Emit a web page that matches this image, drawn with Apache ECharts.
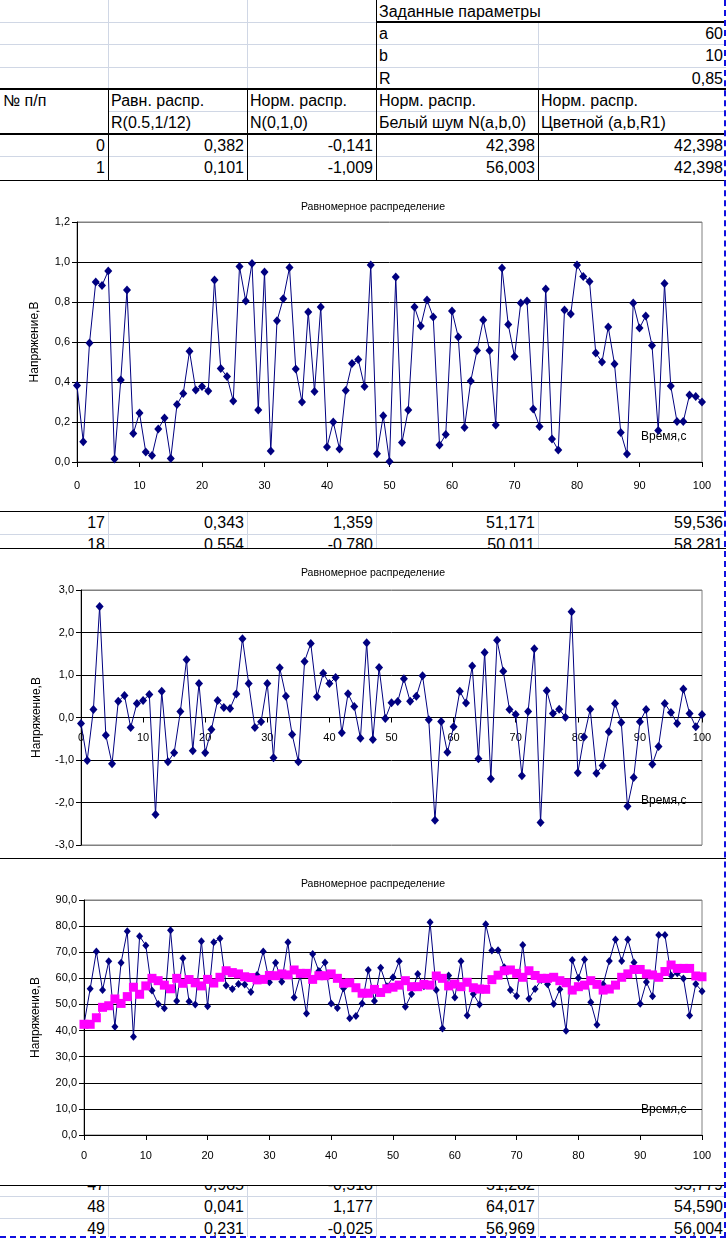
<!DOCTYPE html>
<html><head><meta charset="utf-8">
<script src="https://cdn.jsdelivr.net/npm/echarts@6/dist/echarts.min.js"></script>
<style>
html,body{margin:0;padding:0;background:#fff;}
body{width:727px;height:1239px;position:relative;overflow:hidden;font-family:'Liberation Sans',Arial,sans-serif;}
.t{position:absolute;font-size:16px;white-space:nowrap;color:#000;box-sizing:border-box;}
.chart{position:absolute;left:0;width:726px;background:#fff;z-index:3;}
.ln{position:absolute;}
</style></head><body>
<div id="sheet"></div>
<div id="c1" class="chart" style="top:181px;height:330px"></div>
<div id="c2" class="chart" style="top:549px;height:309px"></div>
<div id="c3" class="chart" style="top:859px;height:326px"></div>
<script>
// ---------- data ----------
const chartTitle = 'Равномерное распределение';
const yName = 'Напряжение,В';
const xName = 'Время,с';
const paramTitle = 'Заданные параметры';
const paramNames = ['a', 'b', 'R'];
const paramValues = ['60', '10', '0,85'];
const headRow1 = ['№ п/п', 'Равн. распр.', 'Норм. распр.', 'Норм. распр.', 'Норм. распр.'];
const headRow2 = ['', 'R(0.5,1/12)', 'N(0,1,0)', 'Белый шум N(a,b,0)', 'Цветной (a,b,R1)'];

const uniform = [0.382,0.101,0.595,0.900,0.883,0.955,0.015,0.410,0.860,0.142,
0.245,0.050,0.033,0.165,0.220,0.018,0.287,0.343,0.554,0.360,
0.377,0.355,0.910,0.467,0.427,0.305,0.977,0.805,0.993,0.260,
0.950,0.055,0.706,0.816,0.972,0.465,0.300,0.750,0.353,0.775,
0.075,0.200,0.065,0.358,0.492,0.512,0.377,0.985,0.041,0.231,
0.003,0.925,0.098,0.260,0.775,0.680,0.810,0.725,0.085,0.137,
0.755,0.625,0.173,0.405,0.557,0.710,0.557,0.185,0.970,0.687,
0.528,0.795,0.805,0.265,0.178,0.865,0.115,0.060,0.760,0.740,
0.985,0.928,0.903,0.545,0.500,0.675,0.490,0.148,0.040,0.795,
0.670,0.730,0.583,0.157,0.892,0.380,0.202,0.202,0.335,0.327,
0.300];

const normal = [-0.141,-1.009,0.188,2.610,-0.420,-1.090,0.380,0.520,-0.235,0.330,
0.400,0.540,-2.280,0.620,-1.040,-0.830,0.140,1.359,-0.780,0.800,
-0.830,-0.280,0.400,0.235,0.210,0.555,1.855,0.800,-0.235,-0.100,
0.800,-0.947,1.170,0.500,-0.400,-1.040,1.320,1.740,0.490,1.040,
0.800,0.940,-0.360,0.560,0.260,-0.490,1.760,-0.518,1.177,-0.025,
0.350,0.375,0.910,0.380,0.500,0.980,-0.055,-2.420,-0.094,-0.820,
-0.220,0.620,0.344,1.210,-0.970,1.530,-1.440,1.815,1.090,0.188,
0.070,-1.370,0.140,1.620,-2.470,0.630,0.094,0.196,0.008,2.490,
-1.300,-0.460,0.196,-1.310,-1.130,-0.336,0.330,-0.117,-2.090,-1.410,
-0.100,0.188,-1.100,-0.680,0.330,0.117,-0.140,0.670,0.094,-0.220,
0.070];

const white = [42.398,56.003,70.3,55.5,66.5,41.5,66.0,78.0,37.65,76.1,
72.6,55.3,50.2,48.5,78.4,51.3,67.7,51.171,50.011,74.2,
49.3,73.8,75.3,57.3,55.9,57.8,57.6,54.8,61.3,70.3,
58.5,66.0,58.7,73.8,52.7,61.0,46.5,69.3,62.8,66.1,
50.4,48.6,56.2,44.7,45.6,50.4,63.2,51.282,64.017,56.969,
60.4,66.5,49.1,54.0,61.7,57.0,81.5,55.5,40.8,61.1,
52.7,66.5,45.8,54.0,50.0,80.7,70.7,70.8,64.2,55.5,
53.2,72.8,52.2,55.9,59.4,57.7,50.2,55.8,39.9,67.0,
60.1,67.2,50.8,42.2,57.7,66.6,74.9,66.6,74.9,66.1,
50.3,58.6,53.1,76.6,76.6,61.1,61.9,59.9,45.8,57.8,
55.1];

const colored = [42.398,42.398,44.9,48.9,49.5,52.1,50.4,53.0,56.6,53.9,
57.1,60.0,59.1,57.4,56.0,60.0,58.1,59.536,58.281,57.1,
59.6,58.2,60.4,62.9,62.2,61.7,60.6,60.3,59.4,59.6,
61.1,61.0,61.7,61.3,63.2,61.9,61.9,59.6,61.0,61.0,
61.7,60.0,58.1,58.3,56.4,54.3,54.3,55.779,54.590,56.004,
56.6,57.4,59.1,56.8,56.8,57.7,57.4,60.9,60.0,57.1,
57.8,56.8,58.5,56.4,55.9,55.8,59.5,61.2,62.9,63.2,
61.9,60.4,62.9,61.1,60.0,60.0,60.4,59.1,58.3,55.5,
56.8,57.4,59.1,57.7,55.5,55.9,57.4,60.4,61.7,63.4,
63.4,61.7,61.3,60.4,62.6,65.1,63.8,63.8,63.8,60.9,
60.6];

// ---------- spreadsheet ----------
const GRIDC = '#d0d7e5';
const cols = [0, 108, 247, 376, 538, 726];
const sheet = document.getElementById('sheet');
function ln(x, y, w, h, c, z) {
  const d = document.createElement('div');
  d.className = 'ln';
  d.style.cssText = `left:${x}px;top:${y}px;width:${w}px;height:${h}px;background:${c};z-index:${z||1}`;
  sheet.appendChild(d);
}
function tx(ci, center, str, align) {
  const d = document.createElement('div');
  d.className = 't';
  d.textContent = str;
  const x0 = cols[ci], x1 = cols[ci + 1];
  d.style.left = x0 + 'px';
  d.style.width = (x1 - x0) + 'px';
  d.style.top = (center - 11) + 'px';
  d.style.height = '22px';
  d.style.lineHeight = '22px';
  d.style.textAlign = align;
  d.style.overflow = 'visible';
  if (align === 'right') d.style.paddingRight = '3px'; else d.style.paddingLeft = '3px';
  sheet.appendChild(d);
}
const num = v => v.toFixed(3).replace('.', ',');
function dataRow(i, center) {
  tx(0, center, String(i), 'right');
  tx(1, center, num(uniform[i]), 'right');
  tx(2, center, num(normal[i]), 'right');
  tx(3, center, num(white[i]), 'right');
  tx(4, center, num(colored[i]), 'right');
}
// top block lines
ln(0, 22, 376, 1, GRIDC);
ln(0, 44, 726, 1, GRIDC);
ln(0, 67, 726, 1, GRIDC);
ln(108, 111, 618, 1, GRIDC);
ln(0, 156, 726, 1, GRIDC);
ln(108, 0, 1, 89, GRIDC);
ln(247, 0, 1, 89, GRIDC);
ln(538, 23, 1, 66, GRIDC);
ln(376, 21, 350, 2, '#000', 2);
ln(0, 88, 726, 2, '#000', 2);
ln(0, 133, 726, 2, '#000', 2);
ln(376, 0, 1, 180, '#000', 2);
ln(108, 89, 1, 91, '#000', 2);
ln(247, 89, 1, 91, '#000', 2);
ln(538, 89, 1, 91, '#000', 2);
// texts top
tx(3, 12, paramTitle, 'left');
paramNames.forEach((n, k) => { tx(3, 34 + k * 22.3, n, 'left'); tx(4, 34 + k * 22.3, paramValues[k], 'right'); });
headRow1.forEach((h, k) => tx(k, 101, h, 'left'));
headRow2.forEach((h, k) => { if (h) tx(k, 123, h, 'left'); });
dataRow(0, 146);
dataRow(1, 168);
// middle block
ln(0, 534, 726, 1, GRIDC);
[108, 247, 376, 538].forEach(x => ln(x, 512, 1, 37, GRIDC));
dataRow(17, 523);
dataRow(18, 545);
// bottom block
ln(0, 1196, 726, 1, GRIDC);
ln(0, 1218, 726, 1, GRIDC);
[108, 247, 376, 538].forEach(x => ln(x, 1185, 1, 52, GRIDC));
dataRow(47, 1185);
dataRow(48, 1207);
dataRow(49, 1229);
// chart borders
ln(0, 180, 726, 1, '#000', 5);
ln(0, 511, 726, 1, '#000', 5);
ln(0, 548, 726, 1, '#000', 5);
ln(0, 858, 726, 1, '#000', 5);
ln(0, 1185, 726, 1, '#000', 5);
// selection marquee
(function () {
  const r = document.createElement('div');
  r.style.cssText = 'position:absolute;left:724px;top:0;width:0;height:1238px;border-left:2px dashed #1010e0;z-index:10';
  sheet.appendChild(r);
  const b = document.createElement('div');
  b.style.cssText = 'position:absolute;left:0;top:1236px;width:726px;height:0;border-top:2px dashed #1010e0;z-index:10';
  sheet.appendChild(b);
})();

// ---------- charts ----------
const FONT = "'Liberation Sans', Arial, sans-serif";
const fmt1 = v => v.toFixed(1).replace('.', ',');
function makeOption(o) {
  const nTicks = Math.round((o.ymax - o.ymin) / o.yint) + 1;
  const splitColors = [];
  for (let i = 0; i < nTicks; i++) splitColors.push(i === nTicks - 1 || (o.grayMin && i === 0) ? '#808080' : '#000000');
  return {
    animation: false,
    title: { text: chartTitle, left: 368, top: o.titleTop, textAlign: 'center',
      textStyle: { fontSize: 10.5, fontWeight: 'normal', color: '#000', fontFamily: FONT } },
    grid: { left: o.left, top: o.top, width: o.width, height: o.height, show: true,
      borderColor: '#808080', borderWidth: 1, backgroundColor: 'transparent' },
    xAxis: { type: 'value', min: 0, max: 100, interval: 10,
      offset: o.xOffset || 0,
      axisLine: { onZero: false, lineStyle: { color: '#000', width: 1 } },
      axisTick: { show: true, length: 5, lineStyle: { color: '#000' } },
      axisLabel: { margin: o.xMargin, fontSize: 11, color: '#000', fontFamily: FONT },
      splitLine: { show: false } },
    yAxis: { type: 'value', min: o.ymin, max: o.ymax, interval: o.yint,
      name: yName, nameLocation: 'middle', nameGap: o.nameGap, nameRotate: 90,
      nameTextStyle: { fontSize: 12, color: '#000', fontFamily: FONT },
      axisLine: { show: true, lineStyle: { color: '#000', width: 1 } },
      axisTick: { show: true, length: 5, lineStyle: { color: '#000' } },
      axisLabel: { formatter: fmt1, fontSize: 11, color: '#000', fontFamily: FONT, margin: 7 },
      splitLine: { show: true, lineStyle: { color: splitColors, width: 1 } } },
    graphic: [{ type: 'text', left: 641, top: o.timeTop,
      style: { text: xName, fontSize: 12, fill: '#000', fontFamily: FONT } }],
    series: o.series
  };
}
function blueSeries(arr, size) {
  return { type: 'line', data: arr.map((v, i) => [i, v]), symbol: 'diamond', symbolSize: size,
    showAllSymbol: true, clip: false,
    itemStyle: { color: '#000080' }, lineStyle: { color: '#000080', width: 1 } };
}
const c1 = echarts.init(document.getElementById('c1'), null, { renderer: 'canvas' });
c1.setOption(makeOption({ titleTop: 16, left: 77, top: 41, width: 625, height: 240,
  ymin: 0, ymax: 1.2, yint: 0.2, xMargin: 18, nameGap: 36, timeTop: 250,
  series: [blueSeries(uniform, [8, 9])] }));
const c2 = echarts.init(document.getElementById('c2'), null, { renderer: 'canvas' });
c2.setOption(makeOption({ titleTop: 14, left: 81, top: 41, width: 621, height: 255,
  ymin: -3, ymax: 3, yint: 1, xMargin: 15, xOffset: -127.5, nameGap: 38, timeTop: 246, grayMin: true,
  series: [blueSeries(normal, [8, 9])] }));
const c3 = echarts.init(document.getElementById('c3'), null, { renderer: 'canvas' });
c3.setOption(makeOption({ titleTop: 15, left: 84, top: 41, width: 618, height: 235,
  ymin: 0, ymax: 90, yint: 10, xMargin: 15, nameGap: 42, timeTop: 245,
  series: [blueSeries(white, [7, 8]),
    { type: 'line', data: colored.map((v, i) => [i, v]), symbol: 'rect', symbolSize: 9,
      showAllSymbol: true, clip: false,
      itemStyle: { color: '#ff00ff' }, lineStyle: { color: '#ff00ff', width: 1 } }] }));
</script>
</body></html>
